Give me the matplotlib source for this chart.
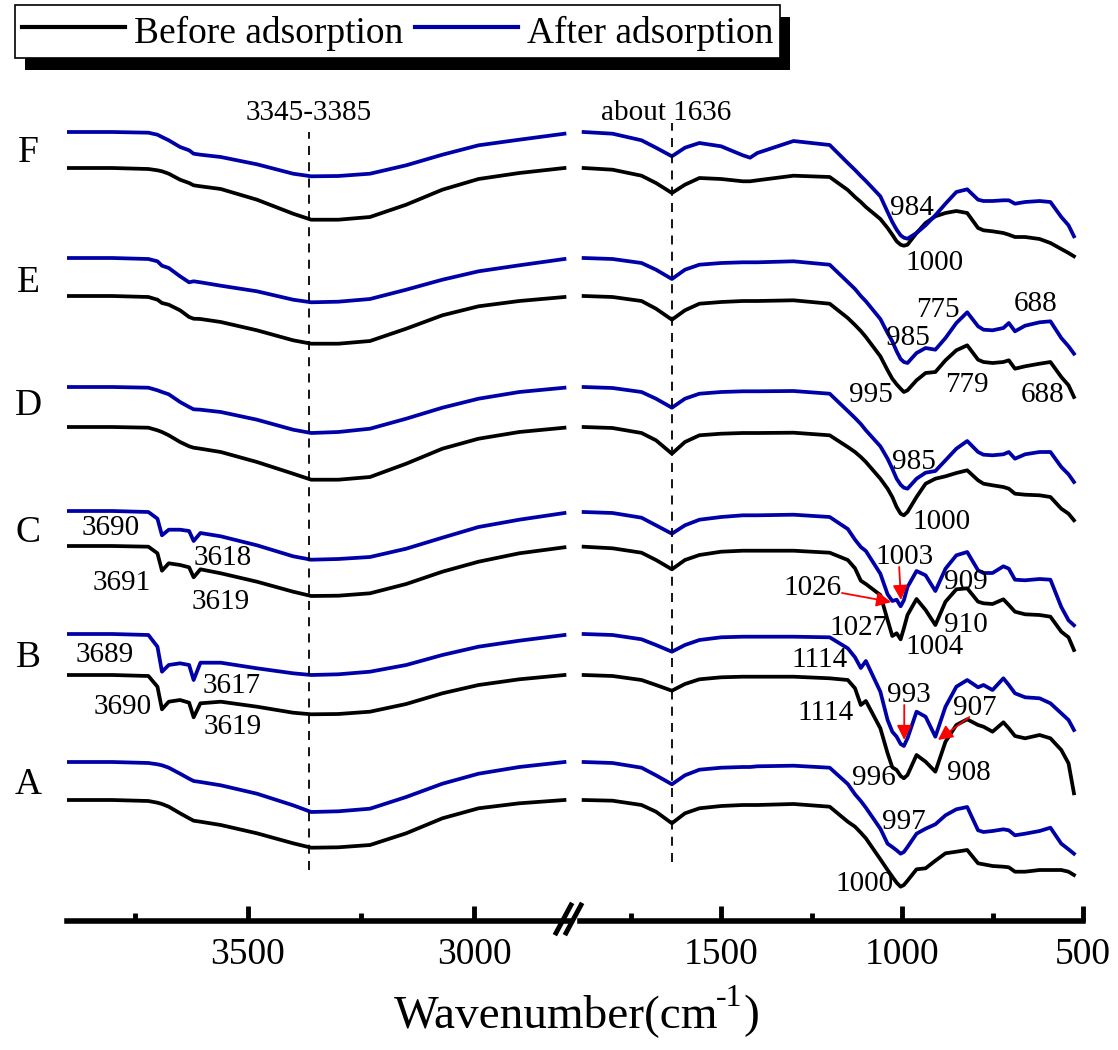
import numpy as np
import matplotlib.pyplot as plt
from matplotlib.lines import Line2D
from matplotlib.patches import Rectangle

plt.rcParams['font.family'] = 'Liberation Serif'

# wavenumber grids (cm-1) for the two parts of the broken axis
wn_hi = [3900, 3800, 3720, 3700, 3690, 3675, 3650, 3630, 3620, 3605, 3560,
         3480, 3400, 3360, 3300, 3230, 3150, 3070, 2990, 2900, 2800]
wn_lo = [1880, 1800, 1720, 1680, 1636, 1600, 1560, 1500, 1440, 1420, 1400,
         1300, 1200, 1150, 1130, 1114, 1100, 1060, 1040, 1027, 1015, 1004,
         995, 985, 960, 935, 908, 880, 850, 820, 790, 775, 750, 720, 705,
         688, 660, 620, 590, 560, 540, 525]

# transmittance drop below the 3900 cm-1 level (a.u.)
F_after_hi = [0, 0, 0.7, 2.7, 5, 8.3, 15, 18.3, 21.7, 22.7, 25, 32.3, 41.7, 44.3, 44, 41.7, 33.3, 22.7, 13.3, 7.7, 1.7]
F_before_hi = [0, 0, 1, 2.3, 3.3, 5.7, 11.7, 15, 17.3, 18.3, 21, 31.7, 45.7, 51.7, 51.7, 49, 36.7, 21.7, 11, 5, 0]
E_after_hi = [0, 0, 1, 3.3, 7.7, 10, 18.3, 24.3, 23.3, 24.3, 27.7, 33.3, 41.7, 44.3, 43.7, 41, 31.7, 21.7, 13.3, 7.3, 1]
E_before_hi = [0, 0, 1, 3.7, 7, 8.7, 14.3, 21, 22.7, 23, 26, 34.3, 44.3, 47.7, 47.7, 45, 32.7, 19.3, 10.3, 5, 1]
D_after_hi = [0, 0, 0.7, 3.3, 5, 7.3, 15, 20, 22.3, 22.7, 25, 32.7, 42.7, 46, 45, 41.7, 31.7, 20.7, 11.7, 5, 0.7]
D_before_hi = [0, 0, 0.7, 3.3, 5, 8.3, 15, 19.3, 20.7, 21.7, 25, 35, 46.7, 52.7, 52.7, 50, 36.7, 21.7, 11.7, 5, 0.7]
C_after_hi = [0, 0, 1, 7.7, 24.3, 18.7, 18.7, 20, 30, 22, 25.3, 34.3, 45.3, 48.7, 48, 46, 37.7, 26.7, 16, 8.7, 2]
C_before_hi = [0, 0, 0.7, 7.3, 24.7, 17.3, 19, 21.3, 31.3, 23.3, 27.3, 35.7, 45.7, 50, 49.7, 47.3, 38, 25.7, 15.7, 7.3, 1.3]
B_after_hi = [0, 0, 1, 12.7, 37.7, 31, 29.3, 31, 46, 28.7, 28.7, 34.3, 39.3, 41, 40.3, 37.7, 31, 21, 12.7, 6.7, 1]
B_before_hi = [0, 0, 1, 11.7, 34.3, 26.7, 25, 27.7, 42.3, 28.3, 26.7, 31.7, 37.7, 39.3, 39, 36.7, 29, 18.3, 10, 4.3, 0]
A_after_hi = [0, 0, 1, 2.3, 3.3, 5.7, 11.7, 16.7, 19, 20, 23.3, 31.7, 43.3, 50, 49.3, 46.7, 35, 21.7, 11.7, 5, 0]
A_before_hi = [0, 0, 1, 2.7, 4, 6.7, 13.3, 18.3, 20.7, 21.7, 25, 33.3, 43.3, 47.7, 47.3, 45, 33.3, 18.3, 8.3, 3.3, 0]

F_after_lo = [0, 1.7, 8.3, 15.7, 24.3, 15.7, 11, 14.3, 23.3, 25.7, 21, 9, 13, 31, 38, 44, 49, 64.3, 80, 90, 97.7, 103.3,
              105.7, 106.7, 101, 93.3, 83.3, 71.7, 60, 57.3, 67.7, 69, 69, 68.3, 68.3, 71.7, 70, 69, 70, 85, 93.3, 104.3]
F_before_lo = [0, 1.7, 7.7, 15, 25, 16.7, 10, 11, 13.3, 13.3, 12.3, 7.7, 9, 22, 29, 34, 39, 51, 60, 66.7, 73.3, 76.7,
               77.7, 76.7, 65, 55, 48.3, 45, 43, 45, 60, 62.3, 63.3, 65, 66.7, 69, 69, 71, 75, 81, 85, 88.3]
E_after_lo = [0, 1, 5, 11.7, 21, 11.7, 6.7, 5, 4.3, 4.3, 4.3, 3.3, 6.7, 24, 31, 38, 43.3, 61, 75, 83.3, 93.3, 101,
              104, 105, 95, 90, 91.7, 80, 65, 54.3, 68.3, 71.7, 72.3, 70, 65, 73.3, 67.7, 64.3, 63.3, 80, 88.3, 95.7]
E_before_lo = [0, 1, 5, 12.7, 23.7, 14.3, 7.7, 6, 5, 5, 5, 4.3, 7.7, 22, 29, 35, 41, 60.3, 74.3, 82.7, 88.3, 92.7,
               96, 94.3, 84.3, 77, 76, 64.3, 54.3, 49.3, 63.7, 66, 67, 66, 64.3, 72.7, 70.3, 67.7, 66, 81, 89.3, 101]
D_after_lo = [0, 1, 5, 11.7, 20.7, 11.7, 6.7, 5, 4.3, 4.3, 4.3, 4, 6.7, 24, 31, 37, 43.3, 59.3, 71.7, 81.7, 91.7, 97.7,
              100.7, 101.7, 91.7, 85.7, 84, 73.3, 61.7, 54, 65, 67.7, 68.3, 67.3, 65, 71.7, 67.3, 65, 65, 80, 87.3, 95]
D_before_lo = [0, 1, 6, 13.3, 26.7, 15, 8.3, 6.7, 6, 6, 6, 5.7, 8.3, 20, 25, 30, 35, 51.7, 61.7, 70, 80, 86.7,
               88.3, 85, 70, 56.7, 51.7, 49.3, 46, 43.3, 53.3, 56.7, 58.3, 60, 61.7, 66.7, 67.7, 68.3, 70, 81.7, 86.7, 93.3]
C_after_lo = [1, 2, 6.7, 14.3, 22.7, 14.3, 8.7, 6, 4.3, 4.3, 4.3, 3.7, 6, 18, 28.7, 36, 40, 62.7, 83.3, 90, 88.7, 95.3,
              89.3, 76, 60, 64.3, 80, 57.7, 44.3, 41, 59.3, 62, 62, 55.3, 57.7, 68.7, 69.3, 68, 68.7, 96, 109.3, 114.3]
C_before_lo = [0.7, 2.3, 6.7, 14, 23.3, 14, 9, 5.7, 4.7, 4.7, 4.7, 4.7, 6.7, 14, 22.3, 34.7, 38, 49, 74, 90, 87.3, 93.3,
               82.3, 69, 53, 64, 79, 55.7, 43.3, 42.3, 55.7, 57.3, 58, 53.3, 59, 65.7, 68.3, 69, 70.7, 85.7, 91.3, 104]
B_after_lo = [0, 1, 5.3, 11, 17.7, 11, 6, 3.3, 2.7, 2.7, 2.7, 2.7, 3.3, 14.3, 23.3, 34, 27, 57.7, 86, 97.7, 102.7, 110,
              112, 104.3, 77.7, 82.7, 102.7, 72.7, 52.7, 46, 53.3, 51, 56, 44.3, 51, 59.3, 63.3, 64.3, 69.3, 79.3, 86, 96]
B_before_lo = [0, 1, 5, 10, 15.7, 9, 4.3, 2.3, 1.7, 1.7, 1.7, 1.7, 3.3, 5, 13.3, 30, 26, 53.3, 78.3, 92.3, 95, 101,
               103.3, 100, 80, 86.7, 96.7, 66.7, 50, 44.3, 50, 51.7, 56.7, 47.3, 53.3, 61, 63.3, 60, 63.3, 75, 88.3, 118.3]
A_after_lo = [0, 1, 5.7, 13.3, 22.3, 13.3, 7.7, 5.7, 5, 5, 4.3, 3.7, 5.7, 22, 32.3, 39, 45.7, 66.7, 81.7, 85, 88.3, 91.7,
              90, 85, 71.7, 66.7, 62.3, 53.3, 47.3, 45, 68.3, 70, 69, 67.3, 68.3, 73.3, 71.7, 69, 65.7, 81.7, 87.3, 91.7]
A_before_lo = [0, 0.7, 5, 11.7, 23.3, 13.3, 8.3, 6, 5, 5, 5, 4, 6.7, 21.7, 26.7, 32.7, 38.3, 59.3, 70, 76.7, 82.7, 86.7,
               85, 80.7, 69.3, 68.3, 60.7, 53.3, 51.7, 50, 63.3, 64.3, 66, 66.7, 67.3, 71.7, 71.7, 70, 70, 70, 71.7, 75]

samples = ['F', 'E', 'D', 'C', 'B', 'A']
before_hi = [F_before_hi, E_before_hi, D_before_hi, C_before_hi, B_before_hi, A_before_hi]
after_hi = [F_after_hi, E_after_hi, D_after_hi, C_after_hi, B_after_hi, A_after_hi]
before_lo = [F_before_lo, E_before_lo, D_before_lo, C_before_lo, B_before_lo, A_before_lo]
after_lo = [F_after_lo, E_after_lo, D_after_lo, C_after_lo, B_after_lo, A_after_lo]

# stacking offsets
off_after = [789, 663, 534, 410, 287, 159]
off_before = [753, 625, 494, 375, 246, 121]
label_y = [771, 641, 518, 391, 266, 139]

peaks_hi = [('3690', 3803, 393), ('3691', 3780, 338), ('3618', 3555, 363), ('3619', 3561, 319),
            ('3689', 3816, 266), ('3617', 3537, 235), ('3690', 3778, 214), ('3619', 3533, 194)]
peaks_lo = [('984', 973, 713), ('1000', 911, 658),
            ('775', 901, 611), ('688', 630, 617), ('985', 984, 583), ('995', 1086, 526),
            ('779', 821, 536), ('688', 611, 526),
            ('985', 966, 459), ('1000', 892, 399),
            ('1003', 994, 364), ('1026', 1248, 333), ('909', 823, 339), ('1027', 1120, 293),
            ('910', 823, 296), ('1004', 911, 274),
            ('1114', 1227, 261), ('993', 980, 226), ('907', 800, 213), ('1114', 1212, 208),
            ('996', 1077, 143), ('908', 814, 148),
            ('997', 994, 99), ('1000', 1103, 37)]
arrows = [((1166, 328), (1030, 319)), ((1008, 354), (1003, 321)),
          ((994, 216), (994, 181)), ((814, 204), (901, 181))]

blue = '#0000a8'
W, H = 1118, 1050
fig = plt.figure(figsize=(W / 100, H / 100), dpi=100)
ax1 = fig.add_axes([67 / W, 129 / H, 502 / W, 831 / H])
ax2 = fig.add_axes([580 / W, 129 / H, 503 / W, 831 / H])

for i in range(6):
    ax1.plot(wn_hi, off_before[i] - np.array(before_hi[i]), color='black', lw=2.7)
    ax1.plot(wn_hi, off_after[i] - np.array(after_hi[i]), color=blue, lw=2.7)
    ax2.plot(wn_lo, off_before[i] - np.array(before_lo[i]), color='black', lw=2.7)
    ax2.plot(wn_lo, off_after[i] - np.array(after_lo[i]), color=blue, lw=2.7)
    ax1.text(3986, label_y[i] - 3, samples[i], fontsize=27, ha='center', va='center')

ax1.vlines(3365, 51, 789, colors='black', linestyles=(0, (5, 4)), lw=1.3)
ax2.vlines(1636, 59, 798, colors='black', linestyles=(0, (5, 4)), lw=1.3)
ax1.text(3365, 808, '3345-3385', fontsize=21, ha='center', va='center')
ax2.text(1653, 808, 'about 1636', fontsize=21, ha='center', va='center')

for s, x, y in peaks_hi:
    ax1.text(x, y, s, fontsize=21, ha='center', va='center')
for s, x, y in peaks_lo:
    ax2.text(x, y, s, fontsize=21, ha='center', va='center')
for tail, head in arrows:
    ax2.annotate('', xy=head, xytext=tail,
                 arrowprops=dict(arrowstyle='-|>', color='red', lw=1.3,
                                 mutation_scale=22, shrinkA=0, shrinkB=0))

ax1.set_xlim(3900, 2790)
ax2.set_xlim(1890, 500)
ax1.set_xticks([3500, 3000])
ax1.set_xticks([3750, 3250], minor=True)
ax2.set_xticks([1500, 1000, 500])
ax2.set_xticks([1750, 1250, 750], minor=True)
for ax in (ax1, ax2):
    ax.set_ylim(0, 831)
    ax.patch.set_visible(False)
    for side in ('top', 'left', 'right'):
        ax.spines[side].set_visible(False)
    ax.spines['bottom'].set_linewidth(4)
    ax.set_yticks([])
    ax.tick_params(axis='x', which='major', direction='in', length=11, width=3.5,
                   labelsize=27, pad=12)
    ax.tick_params(axis='x', which='minor', direction='in', length=6, width=3.5)

# axis break marks
for x0 in (556, 566):
    fig.add_artist(Line2D([x0 / W, (x0 + 15) / W], [1 - 933 / H, 1 - 905 / H],
                          transform=fig.transFigure, color='black', lw=3.5))

r = fig.canvas.get_renderer()

# x label with a hyphen superscript
t1 = fig.text(394 / W, 1 - 1027 / H, 'Wavenumber(cm', fontsize=34, va='baseline')
bb = t1.get_window_extent(r)
t2 = fig.text((bb.x1 - 3) / W, 1 - 1006 / H, '-1', fontsize=23, va='baseline')
bb2 = t2.get_window_extent(r)
fig.text((bb2.x1 + 1) / W, 1 - 1027 / H, ')', fontsize=34, va='baseline')

handles = [Line2D([], [], color='black', lw=3), Line2D([], [], color=blue, lw=3)]
leg = fig.legend(handles, ['Before adsorption', 'After adsorption'], loc='upper left',
                 bbox_to_anchor=(15 / W, 1 - 5 / H), ncol=2, fontsize=27, frameon=True,
                 fancybox=False, framealpha=1, edgecolor='black', handlelength=2.75,
                 handleheight=1.15, handletextpad=0.25, columnspacing=0.3,
                 borderpad=0.18, borderaxespad=0)
leg.get_frame().set_linewidth(1.2)
lb = leg.get_window_extent(r)
shadow = Rectangle(((lb.x0 + 10) / W, (lb.y0 - 12) / H), lb.width / W, lb.height / H,
                   transform=fig.transFigure, facecolor='black', edgecolor='none',
                   zorder=leg.get_zorder() - 0.5)
fig.add_artist(shadow)

fig.savefig('out.png', dpi=100)
